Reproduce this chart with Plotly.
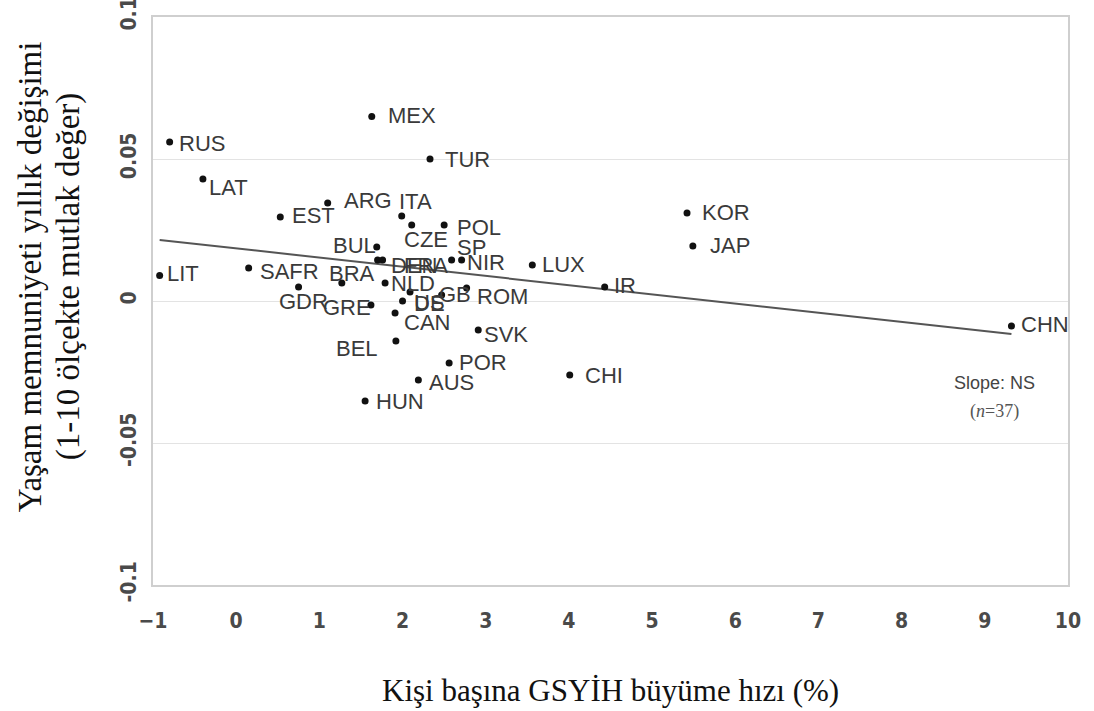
import plotly.graph_objects as go

countries = ["RUS", "LAT", "LIT", "MEX", "TUR", "EST", "ARG", "ITA", "CZE", "POL",
             "BUL", "DEN", "FRA", "SP", "NIR", "LUX", "IR", "KOR", "JAP", "CHN",
             "SAFR", "BRA", "GDR", "GRE", "NLD", "US", "DE", "GB", "ROM", "CAN",
             "SVK", "BEL", "POR", "AUS", "HUN", "CHI"]
gdp_growth = [-0.80, -0.40, -0.92, 1.63, 2.33, 0.53, 1.10, 1.99, 2.11, 2.50,
              1.69, 1.70, 1.76, 2.59, 2.71, 3.56, 4.43, 5.42, 5.49, 9.32,
              0.15, 1.27, 0.75, 1.62, 1.79, 2.09, 2.00, 2.47, 2.77, 1.91,
              2.91, 1.92, 2.56, 2.19, 1.55, 4.01]
ls_change = [0.056, 0.043, 0.009, 0.065, 0.050, 0.0296, 0.0345, 0.0299, 0.0268, 0.0268,
             0.0190, 0.0144, 0.0144, 0.0144, 0.0144, 0.0127, 0.0049, 0.0310, 0.0194, -0.0088,
             0.0116, 0.0063, 0.0049, -0.0014, 0.0063, 0.0032, 0.000, 0.0021, 0.0046, -0.0042,
             -0.0102, -0.0141, -0.0218, -0.0278, -0.0352, -0.0261]

# label offsets from the dot, in pixels (dx to the text's left edge, dy downward to its centre)
label_dx = [10, 7, 8, 17, 16, 13, 17, -2, -7, 14,
            -43, 14, 22, 6, 6, 11, 10, 16, 18, 11,
            12, -12, -19, -47, 7, 5, 12, -2, 11, 10,
            7, -59, 11, 12, 12, 16]
label_dy = [2, 9, -2, -1, 0, -1, -3, -15, 15, 3,
            -2, 5, 5, -13, 2, 0, -2, 0, 0, -1,
            3, -10, 14, 3, 0, 11, 2, -1, 9, 10,
            5, 7, 0, 3, 1, 0]

trend_x = [-0.92, 9.32]
trend_y = [0.0215, -0.0116]

x_ticks = list(range(-1, 11))
y_ticks = [-0.1, -0.05, 0, 0.05, 0.1]
y_tick_text = ["-0.1", "-0.05", "0", "0.05", "0.1"]

fig = go.Figure()
fig.add_trace(go.Scatter(
    x=trend_x, y=trend_y, mode="lines",
    line=dict(color="#555555", width=2), hoverinfo="skip", showlegend=False))
fig.add_trace(go.Scatter(
    x=gdp_growth, y=ls_change, mode="markers", text=countries,
    marker=dict(color="#111111", size=7), showlegend=False))

annotations = []
for c, xv, yv, dx, dy in zip(countries, gdp_growth, ls_change, label_dx, label_dy):
    annotations.append(dict(
        text=c, x=xv, y=yv, xref="x", yref="y", xanchor="left", yanchor="middle",
        xshift=dx - 2, yshift=-dy, showarrow=False, borderpad=0,
        font=dict(family="Liberation Sans, Arial, sans-serif", size=22, color="#3a3a3a")))

tickfont = dict(family="Liberation Sans Narrow, Arial Narrow, DejaVu Sans Condensed, sans-serif",
                size=21, color="#4a4a4a", weight="bold")

serif = "Liberation Serif, Times New Roman, serif"
annotations += [
    dict(text="Yaşam memnuniyeti yıllık değişimi",
         xref="paper", yref="paper", x=0, y=0.542, xanchor="center", yanchor="middle",
         xshift=-123, textangle=-90, showarrow=False,
         font=dict(family=serif, size=33, color="#111111")),
    dict(text="(1-10 ölçekte mutlak değer)",
         xref="paper", yref="paper", x=0, y=0.542, xanchor="center", yanchor="middle",
         xshift=-85, textangle=-90, showarrow=False,
         font=dict(family=serif, size=33, color="#111111")),
    dict(text="Kişi başına GSYİH büyüme hızı (%)",
         xref="paper", yref="paper", x=0.5, y=0, xanchor="center", yanchor="middle",
         yshift=-105, showarrow=False,
         font=dict(family=serif, size=31, color="#111111")),
    dict(text="Slope: NS", x=9.12, y=-0.0289, xref="x", yref="y", showarrow=False,
         font=dict(family="Liberation Sans, Arial, sans-serif", size=18, color="#444444")),
    dict(text="(<i>n</i>=37)", x=9.12, y=-0.039, xref="x", yref="y", showarrow=False,
         font=dict(family=serif, size=18, color="#555555")),
]

fig.update_layout(
    width=1094, height=711,
    margin=dict(l=153, r=26, t=17, b=126),
    paper_bgcolor="white", plot_bgcolor="white",
    xaxis=dict(range=[-1, 10], tickvals=x_ticks, showgrid=False, zeroline=False,
               showline=True, mirror=True, linecolor="#cfcfcf", linewidth=2,
               ticks="outside", ticklen=16, tickcolor="rgba(0,0,0,0)",
               tickfont=tickfont, ticklabeloverflow="allow", automargin=False),
    yaxis=dict(range=[-0.1, 0.1], tickvals=y_ticks, ticktext=y_tick_text, tickangle=-90,
               showgrid=True, gridcolor="#e3e3e3", gridwidth=1, zeroline=False,
               showline=True, mirror=True, linecolor="#cfcfcf", linewidth=2,
               ticks="outside", ticklen=7, tickcolor="rgba(0,0,0,0)",
               tickfont=tickfont, ticklabeloverflow="allow", automargin=False),
    annotations=annotations,
)

fig.write_html("out.html", config={"displayModeBar": False},
               post_script="document.body.style.margin='0';")
